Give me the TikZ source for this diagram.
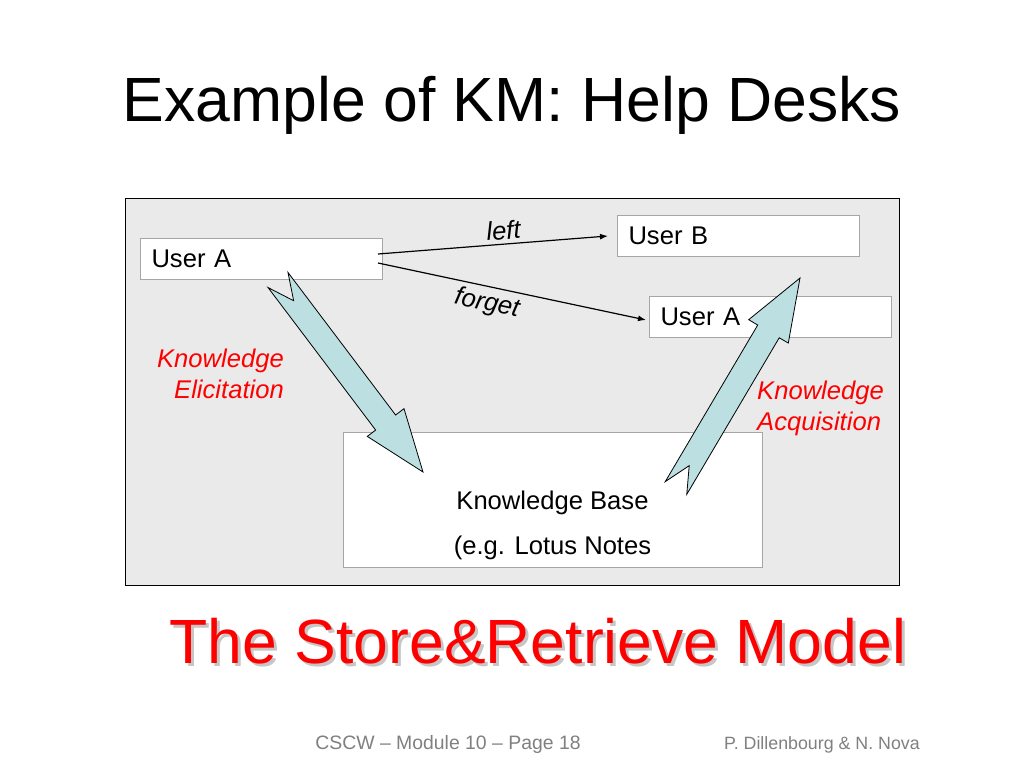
\documentclass[tikz,border=0pt]{standalone}
\usepackage{fontspec}
\setmainfont{Liberation Sans}
\usetikzlibrary{arrows.meta,calc,positioning}

\definecolor{framegray}{HTML}{EAEAEA}
\definecolor{boxline}{HTML}{A6A6A6}
\definecolor{arrowfill}{HTML}{BCDFE2}
\definecolor{footgray}{HTML}{808080}
\definecolor{kmred}{HTML}{FF0000}

% notched block arrow from tail #1 to tip #2
\newcommand{\kmarrow}[2]{%
  \coordinate (#1-hb) at ($(#2)!62pt!(#1)$);
  \draw[blockarr]
    ($(#1)!12.5pt!90:(#2)$) --
    ($(#1)!26pt!(#2)$) --
    ($(#1)!12.5pt!-90:(#2)$) --
    ($(#1-hb)!12.5pt!90:(#1)$) --
    ($(#1-hb)!23pt!90:(#1)$) --
    (#2) --
    ($(#1-hb)!23pt!-90:(#1)$) --
    ($(#1-hb)!12.5pt!-90:(#1)$) -- cycle;
}

\begin{document}
\begin{tikzpicture}[x=1pt, y=-1pt,
  userbox/.style={draw=boxline, fill=white, line width=1pt, anchor=north west,
                  minimum width=242pt, minimum height=41pt, text width=220pt,
                  inner xsep=11pt, inner ysep=0pt, align=left,
                  font=\fontsize{25.6}{30}\selectfont},
  kmlabel/.style={text=kmred, inner sep=0pt,
                  font=\fontsize{25.6}{31}\selectfont\itshape},
  edgelabel/.style={inner sep=3pt, font=\fontsize{25.6}{30}\selectfont\itshape},
  thinarr/.style={-{Latex[length=8pt,width=6pt]}, line width=1.2pt},
  blockarr/.style={draw=black, line width=0.8pt, fill=arrowfill, line join=miter}
]
\useasboundingbox (0,0) rectangle (1024,768);
\fill[white] (0,0) rectangle (1024,768);

% slide title
\node[anchor=base, inner sep=0pt, font=\fontsize{62.5}{70}\selectfont] (title) at (512,121)
  {Example of KM: Help Desks};

% grey panel
\draw[fill=framegray, line width=1pt] (125,198) rectangle (899,585);

\node[userbox] (usera) at (140,238) {User A};
\node[userbox] (userb) at (617,215) {User B};
\node[userbox] (useratwo) at (649,296) {User A};
\node[draw=boxline, fill=white, line width=1pt, anchor=north west,
      minimum width=419pt, minimum height=135pt] (kb) at (343,432) {};
\node[anchor=north, inner sep=0pt, align=center,
      font=\fontsize{25.6}{45}\selectfont] (kbtext) at (552.5,491)
  {Knowledge Base\\(e.g. Lotus Notes};

\draw[thinarr] ([xshift=-5pt,yshift=5pt]usera.east)
  -- node[edgelabel, above=1pt, sloped, pos=0.55] (lblleft) {left} ([xshift=-9pt]userb.west);
\draw[thinarr] ([xshift=-5pt,yshift=-4pt]usera.east)
  -- node[edgelabel, below=2pt, sloped, pos=0.42] (lblforget) {forget} ([xshift=-3pt,yshift=-3pt]useratwo.west);

\node[kmlabel, anchor=north east, align=right] (elicit) at (284,349)
  {Knowledge\\Elicitation};
\node[kmlabel, anchor=north west, align=left] (acquis) at (757,381)
  {Knowledge\\Acquisition};

% block arrows
\coordinate (eltail) at (278,280);
\coordinate (eltip) at (423,472);
\coordinate (actail) at (676,488);
\coordinate (actip) at (800,278);
\kmarrow{eltail}{eltip}
\kmarrow{actail}{actip}

% model name with shadow
\node[anchor=base, inner sep=0pt, text=gray!45, font=\fontsize{62.5}{70}\selectfont] (modelshadow)
  at (541,666) {The Store\&Retrieve Model};
\node[anchor=base, inner sep=0pt, text=kmred, font=\fontsize{62.5}{70}\selectfont] (model)
  at (538,663) {The Store\&Retrieve Model};

% footer
\node[anchor=base, inner sep=0pt, text=footgray, font=\fontsize{19.4}{22}\selectfont] (footleft)
  at (448,749) {CSCW – Module 10 – Page 18};
\node[anchor=base, inner sep=0pt, text=footgray, font=\fontsize{17.8}{20}\selectfont] (footright)
  at (822,749) {P. Dillenbourg \& N. Nova};
\end{tikzpicture}
\end{document}
